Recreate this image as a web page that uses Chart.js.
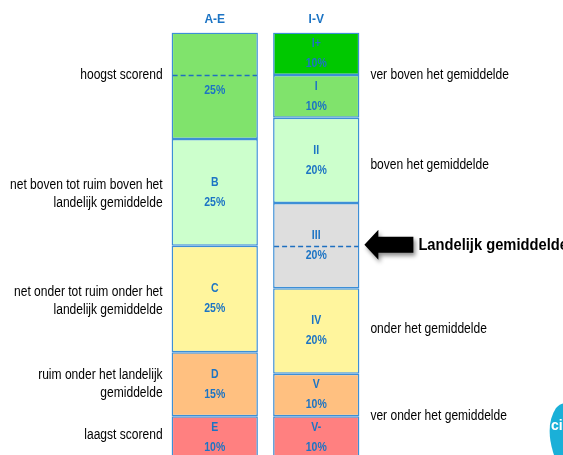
<!DOCTYPE html>
<html>
<head>
<meta charset="utf-8">
<script src="https://cdn.jsdelivr.net/npm/chart.js@4"></script>
<style>
html, body { margin: 0; padding: 0; overflow: hidden; background: #fff; }
#wrap { width: 563px; height: 459px; position: relative; }
</style>
</head>
<body>
<div id="wrap"><canvas id="scoreChart"></canvas></div>
<script>
var columns = ["A-E", "I-V"];

// left column, top to bottom
var leftNames = ["", "B", "C", "D", "E"];
var leftValues = [25, 25, 25, 15, 10];
var leftColors = ["#80e36c", "#ccffcc", "#fff59d", "#ffc080", "#ff8080"];

// right column, top to bottom
var rightNames = ["I+", "I", "II", "III", "IV", "V", "V-"];
var rightValues = [10, 10, 20, 20, 20, 10, 10];
var rightColors = ["#00c800", "#80e36c", "#ccffcc", "#dedede", "#fff59d", "#ffc080", "#ff8080"];

// texts beside the columns and the level they belong to
var leftNotes = [["hoogst scorend"], ["net boven tot ruim boven het", "landelijk gemiddelde"],
    ["net onder tot ruim onder het", "landelijk gemiddelde"], ["ruim onder het landelijk", "gemiddelde"], ["laagst scorend"]];
var leftNoteLevels = [90, 62, 37, 17.5, 5.5];
var rightNotes = ["ver boven het gemiddelde", "boven het gemiddelde", "onder het gemiddelde", "ver onder het gemiddelde"];
var rightNoteLevels = [90, 69, 30.5, 10];

var averageLabel = "Landelijk gemiddelde";
var averageLevel = 50;
var topLevel = 90;

var blue = "#1c74c4";
var font = "'Liberation Sans', Arial, sans-serif";

var datasets = [];
function addColumn(names, values, colors, col) {
    for (var i = names.length - 1; i >= 0; i--) {
        var d = [null, null];
        d[col] = values[i];
        datasets.push({
            label: names[i],
            data: d,
            backgroundColor: colors[i],
            borderColor: "#3d8fd6",
            borderWidth: 1.5,
            borderSkipped: false,
            col: col
        });
    }
}
addColumn(leftNames, leftValues, leftColors, 0);
addColumn(rightNames, rightValues, rightColors, 1);

// narrow text: squeeze horizontally
function narrowText(ctx, t, x, y, sx) {
    ctx.save();
    ctx.translate(x, y);
    ctx.scale(sx, 1);
    ctx.fillText(t, 0, 0);
    ctx.restore();
}

var extras = {
    id: "extras",
    afterDatasetsDraw: function (chart) {
        var ctx = chart.ctx;
        var y = chart.scales.y;
        ctx.save();
        ctx.textAlign = "center";
        ctx.textBaseline = "middle";
        ctx.fillStyle = blue;
        ctx.font = "bold 12.5px " + font;
        chart.data.datasets.forEach(function (ds, i) {
            var bar = chart.getDatasetMeta(i).data[ds.col];
            var v = ds.data[ds.col];
            var cy = (bar.y + bar.base) / 2;
            if (ds.label) {
                narrowText(ctx, ds.label, bar.x, cy - 10, 0.84);
                narrowText(ctx, v + "%", bar.x, cy + 10, 0.84);
            } else {
                narrowText(ctx, v + "%", bar.x, cy + 5, 0.84);
            }
        });

        // dashed lines
        var b0 = chart.getDatasetMeta(leftNames.length - 1).data[0];
        var b1 = chart.getDatasetMeta(datasets.length - 1).data[1];
        ctx.strokeStyle = "#1f6fc0";
        ctx.lineWidth = 1.3;
        ctx.setLineDash([5, 3]);
        ctx.beginPath();
        var py = Math.round(y.getPixelForValue(topLevel)) + 0.5;
        ctx.moveTo(b0.x - b0.width / 2 + 1, py);
        ctx.lineTo(b0.x + b0.width / 2 - 1, py);
        py = Math.round(y.getPixelForValue(averageLevel)) + 0.5;
        ctx.moveTo(b1.x - b1.width / 2 + 1, py);
        ctx.lineTo(b1.x + b1.width / 2 - 1, py);
        ctx.stroke();
        ctx.setLineDash([]);

        // notes left
        ctx.fillStyle = "#000";
        ctx.font = "14px " + font;
        ctx.textAlign = "right";
        var lx = b0.x - b0.width / 2 - 9;
        leftNotes.forEach(function (lines, i) {
            var cy = y.getPixelForValue(leftNoteLevels[i]);
            lines.forEach(function (t, k) {
                narrowText(ctx, t, lx, cy + (k - (lines.length - 1) / 2) * 18, 0.86);
            });
        });
        // notes right
        ctx.textAlign = "left";
        var rx = b1.x + b1.width / 2 + 11;
        rightNotes.forEach(function (t, i) {
            narrowText(ctx, t, rx, y.getPixelForValue(rightNoteLevels[i]), 0.86);
        });

        // arrow
        var ay = y.getPixelForValue(averageLevel) - 1;
        var ax = b1.x + b1.width / 2 + 5;
        ctx.save();
        ctx.shadowColor = "rgba(0,0,0,0.45)";
        ctx.shadowBlur = 4;
        ctx.shadowOffsetX = 2;
        ctx.shadowOffsetY = 3;
        ctx.fillStyle = "#000";
        ctx.beginPath();
        ctx.moveTo(ax, ay);
        ctx.lineTo(ax + 14, ay - 15);
        ctx.lineTo(ax + 14, ay - 8);
        ctx.lineTo(ax + 49, ay - 8);
        ctx.lineTo(ax + 49, ay + 8);
        ctx.lineTo(ax + 14, ay + 8);
        ctx.lineTo(ax + 14, ay + 15);
        ctx.closePath();
        ctx.fill();
        ctx.restore();
        ctx.fillStyle = "#000";
        ctx.font = "bold 17px " + font;
        narrowText(ctx, averageLabel, ax + 54, ay + 1, 0.865);

        // logo corner
        ctx.fillStyle = "#1ab0d8";
        ctx.beginPath();
        ctx.moveTo(553, 452);
        ctx.quadraticCurveTo(545, 425, 556, 408);
        ctx.quadraticCurveTo(562, 402, 566, 404);
        ctx.lineTo(566, 455);
        ctx.lineTo(554, 455);
        ctx.closePath();
        ctx.fill();
        ctx.fillStyle = "#fff";
        ctx.font = "bold 14px " + font;
        ctx.textAlign = "left";
        ctx.fillText("ci", 551, 426);
        ctx.restore();
    }
};

new Chart("scoreChart", {
    type: "bar",
    data: {
        labels: columns,
        datasets: datasets
    },
    plugins: [extras],
    options: {
        responsive: true,
        maintainAspectRatio: false,
        animation: false,
        layout: {
            padding: { left: 164, right: 196, top: 6, bottom: 0 }
        },
        datasets: {
            bar: { barPercentage: 1, categoryPercentage: 0.85 }
        },
        plugins: {
            legend: { display: false },
            tooltip: { enabled: false }
        },
        scales: {
            x: {
                position: "top",
                stacked: true,
                grid: { display: false, drawTicks: false },
                border: { display: false },
                ticks: {
                    color: blue,
                    font: { family: font, size: 12, weight: "bold" },
                    padding: 6
                }
            },
            y: {
                stacked: true,
                min: 0,
                max: 100,
                display: false
            }
        }
    }
});
</script>
</body>
</html>
